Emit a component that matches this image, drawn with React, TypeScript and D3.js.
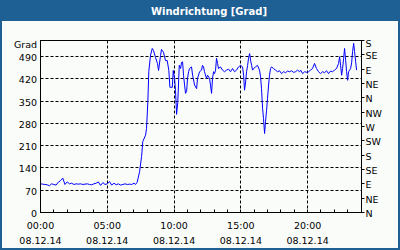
import React from 'react';
import * as d3 from 'd3';

const title = 'Windrichtung [Grad]';
const unitLabel = 'Grad';

const hours = [
  0, 0.17, 0.33, 0.5, 0.67, 0.83, 1, 1.17, 1.33, 1.5, 1.67, 1.83, 2, 2.17, 2.33, 2.5, 2.67, 2.83,
  3, 3.17, 3.33, 3.5, 3.67, 3.83, 4, 4.17, 4.33, 4.5, 4.67, 4.83, 5, 5.17, 5.33, 5.5, 5.67, 5.83,
  6, 6.17, 6.33, 6.5, 6.67, 6.83, 7, 7.12,
  7.24, 7.42, 7.57, 7.66, 7.87, 7.94, 8.04, 8.11, 8.24, 8.37, 8.46, 8.61, 8.76, 8.84, 8.99, 9.06,
  9.21, 9.36, 9.49, 9.61, 9.69, 9.87, 9.94, 10.04, 10.11, 10.19, 10.28, 10.39, 10.49, 10.56, 10.64,
  10.71, 10.79, 10.86, 10.94, 11.01, 11.09, 11.16, 11.31, 11.39, 11.54, 11.69, 11.76, 11.91, 12.06,
  12.13, 12.21, 12.28, 12.43, 12.51, 12.66, 12.73, 12.81, 12.88, 12.96, 13.03, 13.11, 13.18, 13.26,
  13.33, 13.48, 13.63, 13.78, 13.93, 14.08, 14.23, 14.38, 14.53, 14.68, 14.83, 14.98, 15.13, 15.21,
  15.28, 15.36, 15.43, 15.51, 15.58, 15.66, 15.73, 15.81, 15.88, 15.96, 16.1, 16.25, 16.4, 16.48,
  16.55, 16.63, 16.7, 16.78, 16.85, 16.93, 17.0, 17.08, 17.15, 17.23, 17.3, 17.45, 17.6, 17.75,
  17.9, 18.05, 18.2, 18.35, 18.5, 18.65, 18.8, 18.95, 19.1, 19.25, 19.4, 19.48, 19.63, 19.78, 19.93,
  20.07, 20.22, 20.37, 20.52, 20.67, 20.82, 20.97, 21.12, 21.27, 21.42, 21.57, 21.72, 21.87, 22.02,
  22.17, 22.32, 22.4, 22.47, 22.55, 22.62, 22.7, 22.77, 22.85, 22.92, 23.0, 23.07, 23.15, 23.22,
  23.3, 23.37, 23.45, 23.52, 23.6, 23.67,
];

const degrees = [
  90, 89, 88, 87, 84, 90, 88, 86, 95, 100, 108, 88, 96, 90, 92, 88, 90, 89,
  90, 88, 89, 90, 88, 87, 90, 92, 96, 85, 94, 88, 90, 97, 86, 92, 87, 90,
  86, 88, 90, 88, 89, 88, 92, 88,
  95, 128, 176, 223, 243, 264, 349, 443, 494, 515, 509, 487, 468, 446, 493, 512,
  503, 477, 477, 446, 393, 393, 446, 421, 383, 308, 346, 462, 452, 471, 473,
  431, 400, 374, 380, 421, 442, 452, 457, 431, 400, 389, 421, 442, 447,
  462, 457, 442, 421, 431, 421, 400, 374, 421, 442, 436, 447, 484, 468,
  452, 457, 447, 442, 447, 450, 442, 452, 442, 447, 457, 462, 457, 431,
  384, 410, 442, 462, 484, 499, 478, 462, 447, 452, 457, 462, 447, 426,
  389, 327, 295, 248, 286, 321, 358, 400, 431, 452, 457, 452, 447, 442,
  445, 436, 442, 439, 444, 442, 445, 440, 442, 447, 442, 447, 436, 442, 440,
  442, 447, 452, 468, 452, 442, 436, 442, 439, 445, 436, 444, 442, 447,
  452, 468, 489, 462, 431, 452, 484, 515, 478, 442, 415, 442, 447, 452,
  470, 505, 531, 505, 473, 447,
];

const gradTicks = [0, 70, 140, 210, 280, 350, 420, 490];
const compassTicks = [0, 45, 90, 135, 180, 225, 270, 315, 360, 405, 450, 495, 540];
const compassLabels = ['N', 'NE', 'E', 'SE', 'S', 'SW', 'W', 'NW', 'N', 'NE', 'E', 'SE', 'S'];
const timeTicks = [0, 5, 10, 15, 20];
const timeLabels = ['00:00', '05:00', '10:00', '15:00', '20:00'];
const dateLabels = ['08.12.14', '08.12.14', '08.12.14', '08.12.14', '08.12.14'];
const hourTicks = d3.range(1, 24);

const W = 400;
const H = 250;
const BAR = '#1e5f94';
const FONT = 'DejaVu Sans, Verdana, sans-serif';

export default function App() {
  const x = d3.scaleLinear().domain([0, 24]).range([40.5, 361]);
  const y = d3.scaleLinear().domain([0, 540]).range([212.5, 40.5]);
  const px = (v: number) => Math.round(x(v) - 0.5) + 0.5;
  const py = (v: number) => Math.round(y(v) - 0.5) + 0.5;
  const pts = hours.map((h, i) => [h, degrees[i]] as [number, number]);
  const line = d3.line<[number, number]>().x((d) => x(d[0])).y((d) => y(d[1]));
  const left = px(0);
  const right = px(24);
  const top = py(540);
  const bottom = py(0);

  return (
    <svg
      width={W}
      height={H}
      style={{ position: 'fixed', left: 0, top: 0, display: 'block' }}
      fontFamily={FONT}
    >
      <rect x={0} y={0} width={W} height={H} fill={BAR} />
      <rect x={2} y={21} width={W - 4} height={H - 23} fill="#fafcfa" />
      <text x={209} y={14.5} textAnchor="middle" fill="#ffffff" fontWeight="bold" fontSize={10}>
        {title}
      </text>

      {/* grid */}
      {gradTicks.slice(1).map((t) => (
        <line key={'g' + t} x1={left} x2={right} y1={py(t)} y2={py(t)} stroke="#000" strokeDasharray="3,2" />
      ))}
      {timeTicks.slice(1).map((t) => (
        <line key={'v' + t} x1={px(t)} x2={px(t)} y1={top} y2={bottom} stroke="#000" strokeDasharray="3,2" />
      ))}

      {/* data line */}
      <path d={line(pts) || ''} fill="none" stroke="#0000ff" strokeWidth={1} />

      {/* frame */}
      <rect x={left} y={top} width={right - left} height={bottom - top} fill="none" stroke="#000" />

      {/* hour minor ticks */}
      {hourTicks.map((t) => (
        <line key={'h' + t} x1={px(t)} x2={px(t)} y1={bottom} y2={bottom - 3} stroke="#000" />
      ))}

      {/* left labels */}
      <text x={37} y={48} textAnchor="end" fontSize={9.5} fill="#000">
        {unitLabel}
      </text>
      {gradTicks.map((t) => (
        <text key={'l' + t} x={37} y={py(t) + 4} textAnchor="end" fontSize={9.5} fill="#000">
          {t}
        </text>
      ))}

      {/* right compass axis */}
      {compassTicks.map((t, i) => (
        <g key={'c' + i}>
          <line x1={right} x2={right + 3} y1={py(t)} y2={py(t)} stroke="#000" />
          <text x={right + 4} y={Math.max(py(t), 43) + 4} fontSize={9.5} fill="#000">
            {compassLabels[i]}
          </text>
        </g>
      ))}

      {/* bottom labels */}
      {timeTicks.map((t, i) => (
        <g key={'t' + t}>
          <text x={x(t)} y={229} textAnchor="middle" fontSize={9.5} fill="#000">
            {timeLabels[i]}
          </text>
          <text x={x(t)} y={244} textAnchor="middle" fontSize={9.5} fill="#000">
            {dateLabels[i]}
          </text>
        </g>
      ))}
    </svg>
  );
}
